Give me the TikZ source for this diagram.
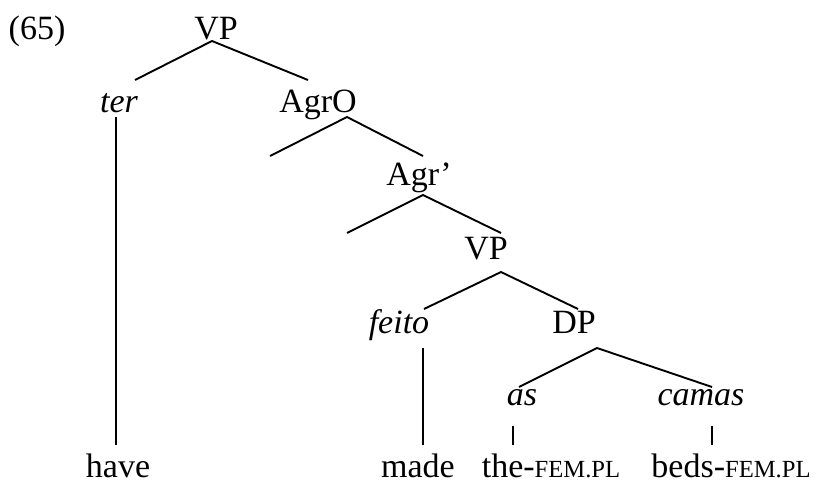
\documentclass[tikz,border=0pt]{standalone}
\usepackage{fontspec}
\setmainfont{Liberation Serif}
\newcommand\glsc[1]{{\fontsize{12.3}{14}\selectfont #1}}
\tikzset{
  lab/.style={anchor=base,inner sep=0pt,font=\fontsize{17}{20}\selectfont},
  br/.style={line width=0.95pt}
}
\begin{document}
\begin{tikzpicture}[x=0.5pt,y=-0.5pt]
\useasboundingbox (0,0) rectangle (817,482);
% labels
\node[lab] (ex) at (37,39) {(65)};
\node[lab] (vp1) at (216,39) {VP};
\node[lab] (ter) at (119,112) {\itshape ter};
\node[lab] (agro) at (318,112) {AgrO};
\node[lab] (agrp) at (419,185) {Agr’};
\node[lab] (vp2) at (486,259) {VP};
\node[lab] (feito) at (399,333) {\itshape feito};
\node[lab] (dp) at (574,333) {DP};
\node[lab] (as) at (522,405) {\itshape as};
\node[lab] (camas) at (701,405) {\itshape camas};
\node[lab] (have) at (118,477) {have};
\node[lab] (made) at (418,477) {made};
\node[lab] (the) at (551,477) {the-\glsc{FEM.PL}};
\node[lab] (beds) at (731,477) {beds-\glsc{FEM.PL}};
% branch points
\coordinate (vp1a) at (212,41);
\coordinate (vp1l) at (135,80);
\coordinate (vp1r) at (308,80);
\coordinate (agroa) at (347,117);
\coordinate (agrol) at (270,156);
\coordinate (agror) at (423,156);
\coordinate (agrpa) at (423,195);
\coordinate (agrpl) at (347,233);
\coordinate (agrpr) at (501,233);
\coordinate (vp2a) at (501,272);
\coordinate (vp2l) at (424,309);
\coordinate (vp2r) at (578,309);
\coordinate (dpa) at (597,348);
\coordinate (dpl) at (519,387);
\coordinate (dpr) at (712,387);
\coordinate (tert) at (116,117);
\coordinate (terb) at (116,445);
\coordinate (feitot) at (423,348);
\coordinate (feitob) at (423,445);
\coordinate (ast) at (513,426);
\coordinate (asb) at (513,445);
\coordinate (camast) at (712,426);
\coordinate (camasb) at (712,445);
% branches
\draw[br] (vp1l) -- (vp1a) -- (vp1r);
\draw[br] (agrol) -- (agroa) -- (agror);
\draw[br] (agrpl) -- (agrpa) -- (agrpr);
\draw[br] (vp2l) -- (vp2a) -- (vp2r);
\draw[br] (dpl) -- (dpa) -- (dpr);
\draw[br] (tert) -- (terb);
\draw[br] (feitot) -- (feitob);
\draw[br] (ast) -- (asb);
\draw[br] (camast) -- (camasb);
\end{tikzpicture}
\end{document}
